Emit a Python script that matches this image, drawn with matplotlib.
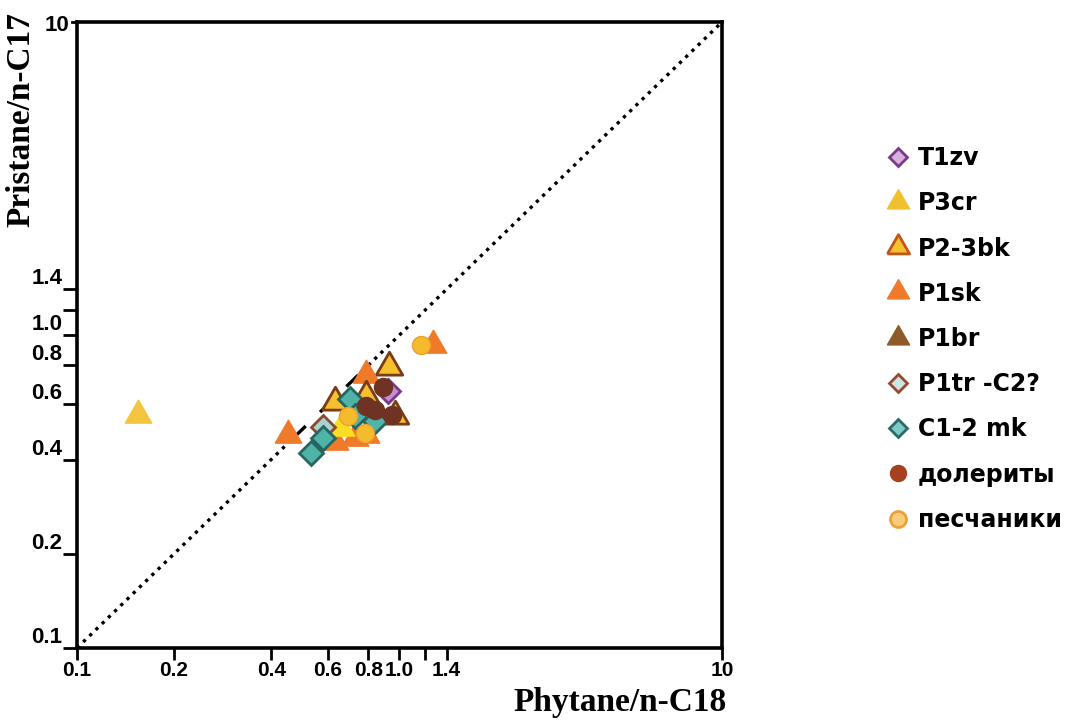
import matplotlib
matplotlib.use("Agg")
import matplotlib.pyplot as plt
from matplotlib.lines import Line2D

# Pristane/n-C17 vs Phytane/n-C18
t1zv_x = [0.92]
t1zv_y = [0.66]

p3cr_x = [0.155, 0.66]
p3cr_y = [0.555, 0.505]

p23bk_x = [0.93, 0.79, 0.63, 0.97]
p23bk_y = [0.79, 0.64, 0.61, 0.55]

p1sk_x = [1.27, 0.79, 0.45, 0.73, 0.79, 0.63]
p1sk_y = [0.93, 0.745, 0.48, 0.47, 0.48, 0.455]

p1br_x = []
p1br_y = []

p1tr_x = [0.58]
p1tr_y = [0.51]

c12mk_x = [0.70, 0.73, 0.84, 0.58, 0.53]
c12mk_y = [0.625, 0.55, 0.53, 0.47, 0.42]

dolerite_x = [0.89, 0.79, 0.84, 0.95]
dolerite_y = [0.68, 0.595, 0.575, 0.555]

sandstone_x = [1.17, 0.69, 0.78]
sandstone_y = [0.93, 0.55, 0.485]

x_ticks = [0.1, 0.2, 0.4, 0.6, 0.8, 1.0, 1.2, 1.4, 10]
x_labels = ['0.1', '0.2', '0.4', '0.6', '0.8', '1.0', '', '1.4', '10']
y_ticks = [0.1, 0.2, 0.4, 0.6, 0.8, 1.0, 1.2, 1.4]
y_labels = ['0.1', '0.2', '0.4', '0.6', '0.8', '1.0', '', '1.4']

# equilateral triangle marker
tri = [(-1.0, -0.577), (1.0, -0.577), (0.0, 1.155), (-1.0, -0.577)]

fig = plt.figure(figsize=(10.71, 7.21), dpi=100)
ax = fig.add_axes([77 / 1071, 1 - 648 / 721, (722 - 77) / 1071, (648 - 22) / 721])
ax.set_xscale('log')
ax.set_yscale('log')
ax.set_xlim(0.1, 10)
ax.set_ylim(0.1, 10)

# 1:1 line, dashed where it runs through the cluster
ax.plot([0.1, 0.47], [0.1, 0.47], color='black', ls=(0, (1, 1.6)), lw=2.4, zorder=1)
ax.plot([0.47, 0.8], [0.47, 0.8], color='black', ls=(0, (5, 6)), lw=2.4, zorder=1)
ax.plot([0.8, 10], [0.8, 10], color='black', ls=(0, (1, 1.6)), lw=2.4, zorder=1)

ax.plot(p1sk_x, p1sk_y, ls='none', marker=tri, ms=22, mfc='#ef7a2a', mec='#ef7a2a', zorder=3)
ax.plot(p3cr_x[:1], p3cr_y[:1], ls='none', marker=tri, ms=22, mfc='#f4c53f', mec='#f4c53f', zorder=3)
ax.plot(p3cr_x[1:], p3cr_y[1:], ls='none', marker=tri, ms=22, mfc='#f9de24', mec='#f9de24', zorder=3)
ax.plot(p23bk_x, p23bk_y, ls='none', marker=tri, ms=22, mfc='#f5bf2e', mec='#7a3c14', mew=2, zorder=3)
ax.plot(p1br_x, p1br_y, ls='none', marker=tri, ms=22, mfc='#8e5a2a', mec='#8e5a2a', zorder=3)
ax.plot(t1zv_x, t1zv_y, ls='none', marker='D', ms=12, mfc='#c58fce', mec='#7a3a8c', mew=2, zorder=4)
ax.plot(p1tr_x, p1tr_y, ls='none', marker='D', ms=12, mfc='#a9d3d3', mec='#8a4a30', mew=2, zorder=4)
ax.plot(c12mk_x, c12mk_y, ls='none', marker='D', ms=12, mfc='#4fb3a7', mec='#276660', mew=2, zorder=4)
ax.plot(dolerite_x, dolerite_y, ls='none', marker='o', ms=13, mfc='#6e3322', mec='#6e3322', zorder=5)
ax.plot(sandstone_x, sandstone_y, ls='none', marker='o', ms=13, mfc='#f6bb2c', mec='#eca22a', mew=1, zorder=5)

for s in ax.spines.values():
    s.set_linewidth(2.6)

tick_font = dict(family='Liberation Sans', weight='bold')
ax.minorticks_off()
ax.set_xticks(x_ticks)
ax.set_xticklabels(x_labels, fontsize=15, **tick_font)
ax.set_yticks(y_ticks)
ax.set_yticklabels(y_labels, fontsize=16, va='bottom', **tick_font)
ax.tick_params(axis='x', direction='out', length=8.5, width=2, pad=1)
ax.tick_params(axis='y', direction='out', length=10, width=2, pad=0.5)

# top "10" of the y axis sits level with its tick
ax.plot([-0.008, 0], [1, 1], color='black', lw=2, transform=ax.transAxes, clip_on=False)
ax.text(-0.012, 0.995, '10', transform=ax.transAxes, ha='right', va='center', fontsize=16, **tick_font)

fig.text(21 / 1071, 1 - 12 / 721, 'Pristane/n-C17', rotation=90, ha='center', va='top',
         family='Liberation Serif', weight='bold', size=24)
fig.text(727 / 1071, 1 - 703 / 721, 'Phytane/n-C18', ha='right', va='center',
         family='Liberation Serif', weight='bold', size=24)

handles = [
    Line2D([], [], ls='none', marker='D', ms=8.7, mfc='#d9b0dc', mec='#7a3a8c', mew=2),
    Line2D([], [], ls='none', marker=tri, ms=18.5, mfc='#f0c02e', mec='#f0c02e'),
    Line2D([], [], ls='none', marker=tri, ms=18.5, mfc='#f5c12e', mec='#c2541e', mew=2),
    Line2D([], [], ls='none', marker=tri, ms=18.5, mfc='#ef7a2a', mec='#ef7a2a'),
    Line2D([], [], ls='none', marker=tri, ms=18.5, mfc='#8e5a2a', mec='#8e5a2a'),
    Line2D([], [], ls='none', marker='D', ms=8.7, mfc='#cfe3e2', mec='#9a4a2c', mew=2),
    Line2D([], [], ls='none', marker='D', ms=8.7, mfc='#7ccac6', mec='#2c6a66', mew=2),
    Line2D([], [], ls='none', marker='o', ms=11.5, mfc='#a8401f', mec='#a8401f'),
    Line2D([], [], ls='none', marker='o', ms=11.5, mfc='#f9cc7a', mec='#eba23a', mew=2),
]
labels = ['T1zv', 'P3cr', 'P2-3bk', 'P1sk', 'P1br', 'P1tr -C2?', 'C1-2 mk', 'долериты', 'песчаники']
fig.legend(handles, labels, loc='upper left', bbox_to_anchor=(887 / 1071, 1 - 146 / 721),
           frameon=False, borderpad=0, borderaxespad=0, handlelength=0.9, handletextpad=0.4,
           labelspacing=0.9, prop=dict(family='DejaVu Sans', weight='bold', size=17))

fig.savefig('out.png', dpi=100)
